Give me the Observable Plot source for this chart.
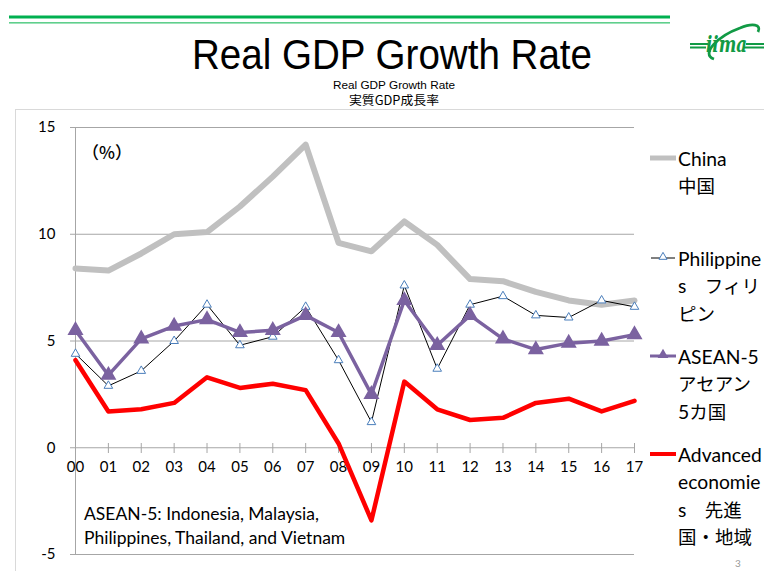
<!DOCTYPE html>
<html><head><meta charset="utf-8">
<script src="https://cdn.jsdelivr.net/npm/d3@7"></script>
<script src="https://cdn.jsdelivr.net/npm/@observablehq/plot@0.6"></script>
<style>
body{margin:0;background:#fff;}
#wrap{position:relative;width:764px;height:571px;overflow:hidden;background:#fff;}
#frame{position:absolute;left:15px;top:109px;width:800px;height:500px;border-top:1px solid #d9d9d9;border-left:1px solid #d9d9d9;}
#chart{position:absolute;left:0;top:0;}
#over{position:absolute;left:0;top:0;}
</style></head><body>
<div id="wrap"><div id="frame"></div><div id="chart"></div><svg id="over" width="764" height="571"></svg></div>
<script>
// ---- data ----
const years = ["00","01","02","03","04","05","06","07","08","09","10","11","12","13","14","15","16","17"];
const china = [8.4, 8.3, 9.1, 10.0, 10.1, 11.3, 12.7, 14.2, 9.6, 9.2, 10.6, 9.5, 7.9, 7.8, 7.3, 6.9, 6.7, 6.9];
const philippines = [4.4, 2.9, 3.6, 5.0, 6.7, 4.8, 5.2, 6.6, 4.1, 1.2, 7.6, 3.7, 6.7, 7.1, 6.2, 6.1, 6.9, 6.6];
const asean5 = [5.5, 3.4, 5.1, 5.7, 6.0, 5.4, 5.5, 6.2, 5.4, 2.5, 6.9, 4.8, 6.2, 5.1, 4.6, 4.9, 5.0, 5.3];
const advanced = [4.1, 1.7, 1.8, 2.1, 3.3, 2.8, 3.0, 2.7, 0.2, -3.4, 3.1, 1.8, 1.3, 1.4, 2.1, 2.3, 1.7, 2.2];
const yTicks = [-5, 0, 5, 10, 15];
const gridValues = [-5, 5, 10, 15];
const titleText = "Real GDP Growth Rate";
const subtitleLines = ["Real GDP Growth Rate", "実質GDP成長率"];
const unitLabel = "（%）";
const noteLines = ["ASEAN-5: Indonesia, Malaysia,", "Philippines, Thailand, and Vietnam"];
const legendChina = ["China", "中国"];
const legendPhil = ["Philippine", "s　フィリ", "ピン"];
const legendAsean = ["ASEAN-5", "アセアン", "5カ国"];
const legendAdv = ["Advanced", "economie", "s　先進", "国・地域"];
const logoText = "iima";
const pageNumber = "3";

const rows = (vals) => years.map((y, i) => ({year: y, value: vals[i]}));
const chinaRows = rows(china), philRows = rows(philippines), aseanRows = rows(asean5), advRows = rows(advanced);

const grey = "#a6a6a6";
const font = "Lato, 'Noto Sans CJK JP', sans-serif";
const cjkFont = "'Noto Sans CJK JP', sans-serif";

const chart = Plot.plot({
  width: 764, height: 571,
  marginLeft: 75, marginRight: 130, marginTop: 127, marginBottom: 17,
  style: {background: "transparent", fontFamily: font, fontSize: "15px", color: "#000"},
  x: {type: "point", domain: years, padding: 0, round: false},
  y: {domain: [-5, 15]},
  marks: [
    Plot.ruleY(gridValues, {stroke: grey, strokeWidth: 1}),
    Plot.ruleY([0], {stroke: grey, strokeWidth: 1.2}),
    Plot.frame({anchor: "left", stroke: grey}),
    Plot.axisY({ticks: yTicks, tickFormat: d => String(d), tickSize: 5, tickPadding: 15, stroke: grey, fill: "#000", label: null, fontSize: 15}),
    Plot.axisX({anchor: "bottom", dy: -111, tickSize: 10, tickPadding: 8, stroke: grey, fill: "#000", label: null, fontSize: 15}),
    Plot.line(chinaRows, {x: "year", y: "value", stroke: "#c0c0c0", strokeWidth: 6}),
    Plot.line(philRows, {x: "year", y: "value", stroke: "#000", strokeWidth: 1}),
    Plot.dot(philRows, {x: "year", y: "value", symbol: "triangle", r: 3.2, stroke: "#4a7ebb", fill: "#fff", strokeWidth: 1}),
    Plot.line(aseanRows, {x: "year", y: "value", stroke: "#7b62a0", strokeWidth: 3.5}),
    Plot.dot(aseanRows, {x: "year", y: "value", symbol: "triangle", r: 5, fill: "#7b62a0", stroke: "#7b62a0"}),
    Plot.line(advRows, {x: "year", y: "value", stroke: "#ff0000", strokeWidth: 4.5})
  ]
});
document.getElementById("chart").appendChild(chart);

// ---- overlay: titles, legend, notes ----
const ov = d3.select("#over");
// green rules at top
ov.append("rect").attr("x", 9).attr("y", 15.5).attr("width", 661).attr("height", 3).attr("fill", "#00b050");
ov.append("rect").attr("x", 9).attr("y", 22).attr("width", 661).attr("height", 1.6).attr("fill", "#5fcf8c");
// logo
const green = "#119a45";
const logo = ov.append("g");
logo.append("path").attr("d", "M714,59 C700,54 718,36 740,28 C752,23 762,24 758,32").attr("fill", "none").attr("stroke", green).attr("stroke-width", 2.8);
logo.append("path").attr("d", "M690,44 L708,44 M690,47.5 L706,47.5 M746,44 L764,44 M744,47.5 L764,47.5").attr("stroke", green).attr("stroke-width", 1.8);
logo.append("text").attr("x", 706).attr("y", 52).attr("font-family", "'DejaVu Serif', serif").attr("font-style", "italic").attr("font-weight", "bold")
  .attr("font-size", 22).attr("textLength", 41).attr("lengthAdjust", "spacingAndGlyphs").attr("fill", green).text(logoText);

// title
ov.append("text").attr("x", 392).attr("y", 69).attr("text-anchor", "middle")
  .attr("font-family", "'Liberation Sans', Arial, sans-serif").attr("font-size", 43)
  .attr("textLength", 400).attr("lengthAdjust", "spacingAndGlyphs").text(titleText);
ov.append("text").attr("x", 394).attr("y", 89).attr("text-anchor", "middle")
  .attr("font-family", "'Liberation Sans', Arial, sans-serif").attr("font-size", 11)
  .attr("textLength", 122).attr("lengthAdjust", "spacingAndGlyphs").text(subtitleLines[0]);
ov.append("text").attr("x", 394).attr("y", 104.5).attr("text-anchor", "middle")
  .attr("font-family", cjkFont).attr("font-size", 12.5)
  .attr("textLength", 90).attr("lengthAdjust", "spacingAndGlyphs").text(subtitleLines[1]);

// unit label
ov.append("text").attr("x", 82).attr("y", 151).attr("dominant-baseline", "central")
  .attr("font-family", cjkFont).attr("font-size", 17).attr("font-weight", 500).text(unitLabel);

// note
noteLines.forEach((t, i) => ov.append("text").attr("x", 84).attr("y", 513 + i * 24).attr("dominant-baseline", "central")
  .attr("font-family", font).attr("font-size", 17.5).text(t));

// legend (Latin and CJK runs sized separately)
const cjkRe = /([\u3000-\u30ff\u4e00-\u9fff\uff00-\uffef]+)/;
function legendText(lines, y0) {
  lines.forEach((t, i) => {
    const txt = ov.append("text").attr("x", 678).attr("y", y0 + i * 27.3).attr("dominant-baseline", "central")
      .attr("font-family", font).attr("font-size", 19.3);
    t.split(cjkRe).filter(s => s.length).forEach(s => {
      const sp = txt.append("tspan").text(s);
      if (cjkRe.test(s)) sp.attr("font-family", cjkFont).attr("font-size", 18.5);
    });
  });
}
ov.append("line").attr("x1", 650).attr("x2", 676).attr("y1", 158).attr("y2", 158).attr("stroke", "#c0c0c0").attr("stroke-width", 5);
legendText(legendChina, 158);
ov.append("line").attr("x1", 651).attr("x2", 675).attr("y1", 258).attr("y2", 258).attr("stroke", "#000").attr("stroke-width", 1);
ov.append("path").attr("d", d3.symbol(d3.symbolTriangle, 28)()).attr("transform", "translate(663,257)").attr("fill", "#fff").attr("stroke", "#4a7ebb");
legendText(legendPhil, 258);
ov.append("line").attr("x1", 650).attr("x2", 676).attr("y1", 356).attr("y2", 356).attr("stroke", "#7b62a0").attr("stroke-width", 3);
ov.append("path").attr("d", d3.symbol(d3.symbolTriangle, 50)()).attr("transform", "translate(663,355)").attr("fill", "#7b62a0");
legendText(legendAsean, 356);
ov.append("line").attr("x1", 650).attr("x2", 676).attr("y1", 454).attr("y2", 454).attr("stroke", "#ff0000").attr("stroke-width", 4);
legendText(legendAdv, 454);

ov.append("text").attr("x", 738).attr("y", 563).attr("text-anchor", "middle").attr("dominant-baseline", "central")
  .attr("font-family", font).attr("font-size", 10).attr("fill", "#999").text(pageNumber);
</script>
</body></html>
